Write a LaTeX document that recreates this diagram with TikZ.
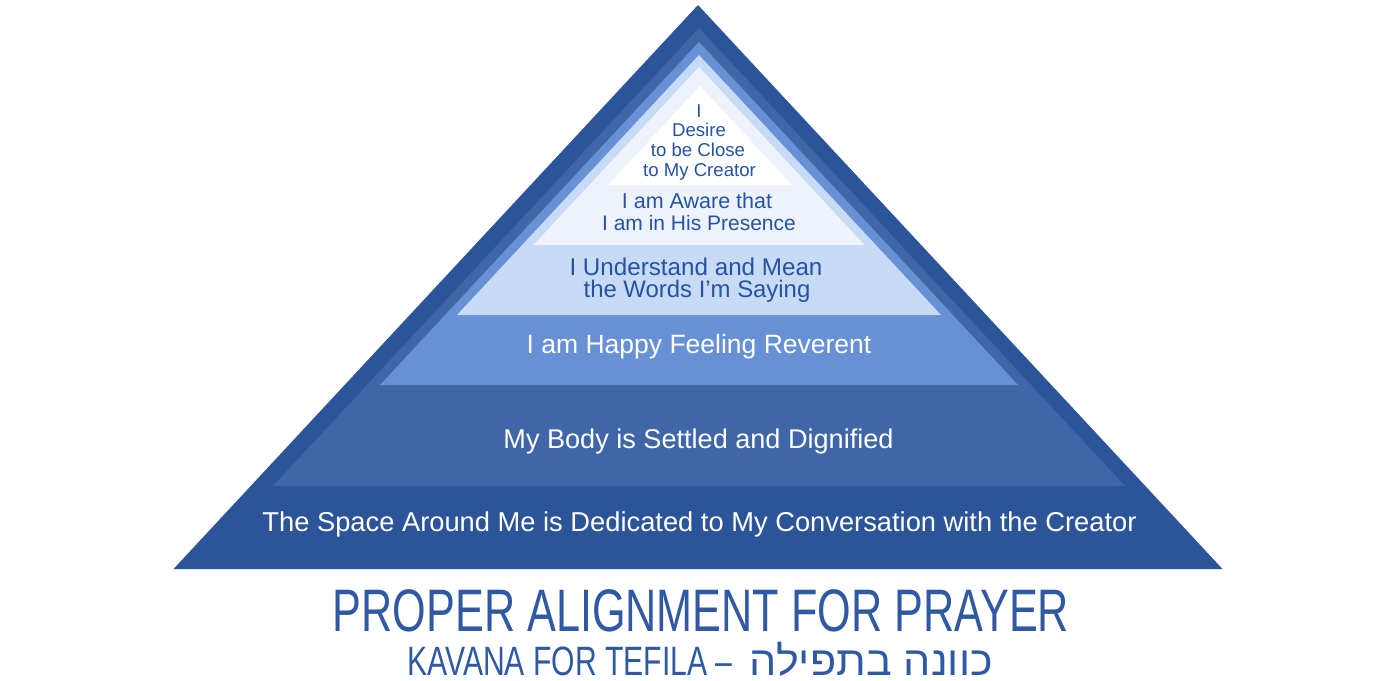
\documentclass[tikz,border=0pt]{standalone}
\usepackage{fontspec}
\setmainfont{Liberation Sans}
\newfontfamily\hebfont[Script=Hebrew]{Liberation Sans}
\TeXXeTstate=1
\usepackage{graphicx}
\definecolor{layA}{HTML}{2B5598}
\definecolor{layB}{HTML}{3F66A6}
\definecolor{layC}{HTML}{6891D5}
\definecolor{layD}{HTML}{C7DAF6}
\definecolor{layE}{HTML}{EEF3FB}
\definecolor{inktext}{HTML}{2553A2}
\definecolor{titleblue}{HTML}{2F5AA3}
\tikzset{
  layer/.style={fill=#1, draw=none},
  darkline/.style={anchor=base, text=inktext, inner sep=0pt},
  lightline/.style={anchor=base, text=white, inner sep=0pt},
}
\newcommand{\fsz}[1]{\fontsize{#1}{#1}\selectfont}
\begin{document}
\begin{tikzpicture}[x=1pt,y=-1pt]
\useasboundingbox (0,0) rectangle (1400,680);
% nested triangles
\fill[layer=layA] (698,5) -- (1222.5,569) -- (173.5,569) -- cycle;
\fill[layer=layB] (699,28) -- (1125,486) -- (273,486) -- cycle;
\fill[layer=layC] (699,42) -- (1018,385) -- (380,385) -- cycle;
\fill[layer=layD] (699,55) -- (941,315) -- (457,315) -- cycle;
\fill[layer=layE] (699,67) -- (864.5,245) -- (533.5,245) -- cycle;
\fill[layer=white] (700,86) -- (792,185) -- (608,185) -- cycle;
% texts
\node[darkline, font=\fsz{18.6}] (t1a) at (699,117) {I};
\node[darkline, font=\fsz{18.6}] (t1b) at (699,136.5) {Desire};
\node[darkline, font=\fsz{18.6}] (t1c) at (698,156) {to be Close};
\node[darkline, font=\fsz{18.6}] (t1d) at (699.5,176) {to My Creator};
\node[darkline, font=\fsz{21.5}] (t2a) at (697,208) {I am Aware that};
\node[darkline, font=\fsz{21}] (t2b) at (699,230) {I am in His Presence};
\node[darkline, font=\fsz{24.2}] (t3a) at (696,275.5) {I Understand and Mean};
\node[darkline, font=\fsz{23.9}] (t3b) at (697,297) {the Words I’m Saying};
\node[lightline, font=\fsz{26.5}] (t4) at (699,353) {I am Happy Feeling Reverent};
\node[lightline, font=\fsz{27.1}] (t5) at (698.5,448) {My Body is Settled and Dignified};
\node[lightline, font=\fsz{27.3}] (t6) at (699.5,531.5) {The Space Around Me is Dedicated to My Conversation with the Creator};
% title
\node[anchor=base, text=titleblue, inner sep=0pt] (title) at (701,631)
  {\scalebox{0.72}[1]{\fsz{60}PROPER ALIGNMENT FOR PRAYER}};
\node[anchor=base, text=titleblue, inner sep=0pt] (subtitle) at (700,675.5)
  {\fsz{41}\raisebox{0pt}[\height][0pt]{\scalebox{0.735}[1]{KAVANA FOR TEFILA~–}\hspace{17pt}\scalebox{1.05}[1]{\hebfont\beginR כוונה בתפילה\endR}}};
\end{tikzpicture}
\end{document}
